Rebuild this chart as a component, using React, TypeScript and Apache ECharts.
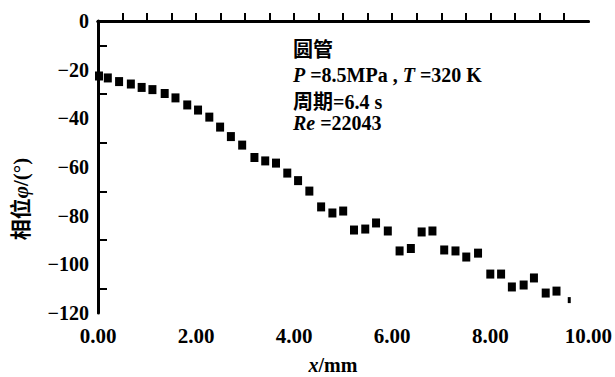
import React, { useEffect, useRef } from "react";
import * as echarts from "echarts";

// x positions (mm) and phase (deg)
const xValues: number[] = [
  0.02, 0.2, 0.43, 0.67, 0.89, 1.11, 1.36, 1.58, 1.82, 2.04,
  2.27, 2.49, 2.71, 2.94, 3.19, 3.41, 3.63, 3.86, 4.08, 4.31,
  4.55, 4.78, 5.0, 5.22, 5.45, 5.67, 5.91, 6.15, 6.38, 6.6,
  6.82, 7.06, 7.29, 7.51, 7.75, 8.0, 8.22, 8.44, 8.68, 8.89,
  9.13, 9.35, 9.61,
];
const phaseValues: number[] = [
  -22.6, -23.4, -24.9, -25.9, -27.3, -28.2, -29.8, -31.6, -34.5, -36.6,
  -39.5, -43.6, -47.5, -51.0, -56.1, -57.5, -58.4, -62.5, -65.6, -69.9,
  -76.4, -78.9, -78.1, -85.9, -85.5, -83.0, -86.3, -94.5, -93.5, -86.7,
  -86.3, -94.1, -94.5, -97.0, -95.4, -104.0, -104.0, -109.3, -108.5, -105.6,
  -111.8, -111.0, -114.7,
];
const xTickValues: number[] = [
  0.5, 1, 1.5, 2, 2.5, 3, 3.5, 4, 4.5, 5, 5.5, 6, 6.5, 7, 7.5, 8, 8.5, 9, 9.5,
];
const yTickValues: number[] = [-110, -90, -70, -50, -30, -10];
const annotationLines: string[] = ["圆管", "P =8.5MPa , T =320 K", "周期=6.4 s", "Re =22043"];

const SERIF = "Liberation Serif, Noto Sans CJK SC, serif";

export default function App() {
  const ref = useRef<HTMLDivElement>(null);
  useEffect(() => {
    if (!ref.current) return;
    const chart = echarts.init(ref.current, undefined, { renderer: "svg" });
    const data = xValues.map((x, i) => [x, phaseValues[i]]);
    const last = data.length - 1;
    const base = { fontFamily: SERIF, fontWeight: "bold" as const, fontSize: 20, fill: "#000" };
    const italic = { fontStyle: "italic", fontWeight: "bold", fontFamily: SERIF, fontSize: 20, color: "#000" };
    const plain = { fontWeight: "bold", fontFamily: SERIF, fontSize: 20, color: "#000" };
    chart.setOption({
      animation: false,
      backgroundColor: "#fff",
      textStyle: { fontFamily: SERIF },
      grid: { left: 98, top: 21, width: 494, height: 292, show: false },
      xAxis: [
        {
          type: "value",
          min: 0,
          max: 10,
          interval: 2,
          position: "bottom",
          splitLine: { show: false },
          axisLine: { lineStyle: { color: "#000", width: 3 } },
          axisTick: {
            inside: true,
            length: 8,
            customValues: xTickValues,
            lineStyle: { color: "#000", width: 2 },
          },
          axisLabel: {
            color: "#000",
            fontFamily: SERIF,
            fontWeight: "bold",
            fontSize: 21,
            margin: 12,
            showMinLabel: true,
            showMaxLabel: true,
            formatter: (v: number) => v.toFixed(2),
          },
        },
        {
          type: "value",
          min: 0,
          max: 10,
          position: "top",
          splitLine: { show: false },
          axisLine: { show: true, lineStyle: { color: "#000", width: 3 } },
          axisTick: { show: false },
          axisLabel: { show: false },
        },
      ],
      yAxis: [
        {
          type: "value",
          min: -120,
          max: 0,
          interval: 20,
          position: "left",
          splitLine: { show: false },
          axisLine: { show: true, lineStyle: { color: "#000", width: 3 } },
          axisTick: {
            inside: true,
            length: 9,
            customValues: yTickValues,
            lineStyle: { color: "#000", width: 2 },
          },
          axisLabel: {
            color: "#000",
            fontFamily: SERIF,
            fontWeight: "bold",
            fontSize: 20,
            margin: 9,
            formatter: (v: number) => (v === 0 ? "0" : "\u2212" + Math.abs(v)),
          },
        },
        {
          type: "value",
          min: -120,
          max: 0,
          position: "right",
          splitLine: { show: false },
          axisLine: { show: true, lineStyle: { color: "#000", width: 2 } },
          axisTick: { show: false },
          axisLabel: { show: false },
        },
      ],
      series: [
        {
          type: "scatter",
          data,
          symbol: "rect",
          symbolSize: (_v: number[], p: any) => (p.dataIndex === last ? [3, 6] : [8, 9]),
          itemStyle: { color: "#000", opacity: 1 },
          xAxisIndex: 0,
          yAxisIndex: 0,
        },
      ],
      graphic: [
        {
          type: "text",
          x: 293,
          y: 50,
          style: { ...base, text: annotationLines[0], verticalAlign: "middle" },
        },
        {
          type: "text",
          x: 293,
          y: 75,
          style: {
            ...base,
            verticalAlign: "middle",
            text: "{i|P}{p| =8.5MPa , }{i|T}{p| =320 K}",
            rich: { i: italic, p: plain },
          },
        },
        {
          type: "text",
          x: 293,
          y: 102,
          style: { ...base, text: annotationLines[2], verticalAlign: "middle" },
        },
        {
          type: "text",
          x: 293,
          y: 123,
          style: {
            ...base,
            verticalAlign: "middle",
            text: "{i|Re}{p| =22043}",
            rich: { i: italic, p: plain },
          },
        },
        {
          type: "text",
          x: 333,
          y: 365,
          style: {
            ...base,
            align: "center",
            verticalAlign: "middle",
            text: "{i|x}{p|/mm}",
            rich: { i: italic, p: plain },
          },
        },
        {
          type: "text",
          x: 21,
          y: 199,
          rotation: Math.PI / 2,
          style: {
            ...base,
            fontSize: 21,
            align: "center",
            verticalAlign: "middle",
            text: "{p|相位}{i|φ}{p|/(°)}",
            rich: { i: { ...italic, fontSize: 21 }, p: { ...plain, fontSize: 21 } },
          },
        },
      ],
    });
    return () => chart.dispose();
  }, []);
  return (
    <div
      ref={ref}
      style={{ position: "absolute", left: 0, top: 0, width: 615, height: 377 }}
    />
  );
}
